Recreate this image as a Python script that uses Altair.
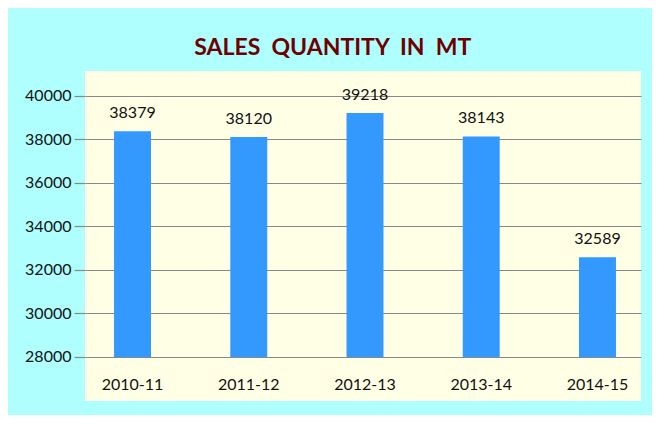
import altair as alt
import pandas as pd

years = ["2010-11", "2011-12", "2012-13", "2013-14", "2014-15"]
quantity = [38379, 38120, 39218, 38143, 32589]
y_ticks = [28000, 30000, 32000, 34000, 36000, 38000, 40000]

df = pd.DataFrame({"year": years, "qty": quantity})

x_enc = alt.X(
    "year:N",
    sort=years,
    title=None,
    scale=alt.Scale(paddingInner=0.682, paddingOuter=0.2325, align=0.537),
    axis=alt.Axis(
        labelAngle=0, domain=False, ticks=False, offset=-25, labelPadding=0,
        labelFont="Lato", labelFontSize=16, labelColor="#111111",
    ),
)
y_scale = alt.Scale(domain=[25977, 41149], nice=False, zero=False)

bars = alt.Chart(df).mark_bar(color="#3399FF").encode(
    x=x_enc,
    y=alt.Y(
        "qty:Q",
        scale=y_scale,
        title=None,
        axis=alt.Axis(
            values=y_ticks, grid=True, gridColor="#888888", gridWidth=1.2,
            tickColor="#888888", tickSize=11, tickWidth=1.2, labelPadding=3,
            domain=False, labelFont="Lato", labelFontSize=16, labelColor="#111111",
            format="d",
        ),
    ),
    y2=alt.datum(28000),
)

labels = alt.Chart(df).mark_text(
    baseline="bottom", dy=-10, font="Lato", fontSize=16, color="#111111"
).encode(
    x=alt.X("year:N", sort=years),
    y=alt.Y("qty:Q", scale=y_scale),
    text=alt.Text("qty:Q", format="d"),
)

chart = (
    alt.layer(bars, labels)
    .properties(
        width=556,
        height=330,
        background="#AFFFFF",
        padding={"left": 77, "top": 63, "right": 11, "bottom": 14},
        autosize=alt.AutoSizeParams(type="none"),
        title=alt.TitleParams(
            "SALES\u00a0 QUANTITY\u00a0 IN\u00a0 MT",
            font="Lato", fontSize=23, fontWeight="bold", color="#6E0000",
            anchor="middle", frame="bounds", offset=11,
        ),
    )
    .configure_view(fill="#FFFFE5", stroke=None)
)

chart.save("out.html", embed_options={"renderer": "svg", "actions": False})
